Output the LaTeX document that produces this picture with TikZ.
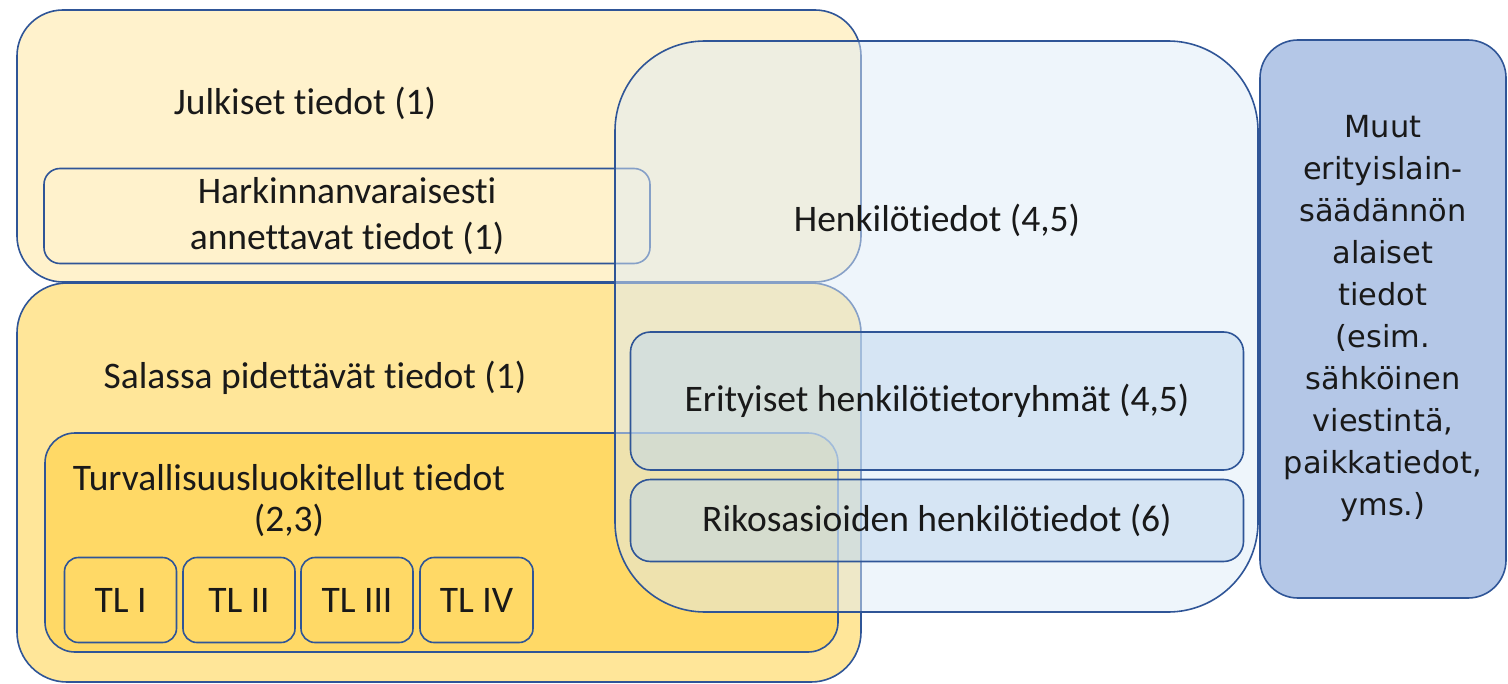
\documentclass[tikz,border=0pt]{standalone}
\usepackage{fontspec}
\setmainfont{Carlito}[Ligatures=NoCommon]
\newfontfamily\muutfont{DejaVu Sans}
\usetikzlibrary{positioning}
\definecolor{edgeblue}{HTML}{2F5597}
\definecolor{publicyellow}{HTML}{FFF2CC}
\definecolor{secretyellow}{HTML}{FFE699}
\definecolor{classyellow}{HTML}{FFD966}
\definecolor{personblue}{HTML}{DEEBF7}
\definecolor{groupblue}{HTML}{BDD7EE}
\definecolor{otherblue}{HTML}{B4C7E7}
\tikzset{
    % Thin dark blue outline used by every box
    box line/.style={draw=edgeblue, line width=0.8pt},
%
    % Text of the diagram
    label text/.style={text=black!90, inner sep=0, align=center,
        font=\fontsize{18.75}{23}\selectfont},
%
    % Small rounded box holding its own text
    inner box/.style={box line, label text, rectangle, outer sep=0},
%
    % The see-through fills over the yellow side
    person fill/.style={fill=personblue, fill opacity=0.5, text opacity=1},
    group fill/.style={fill=groupblue, fill opacity=0.5, text opacity=1}}

\begin{document}
\begin{tikzpicture}[x=0.5pt, y=-0.5pt]

\useasboundingbox (0,0) rectangle (1508,684);

% Public and secret information

\path [box line, fill=publicyellow, rounded corners=23pt]
    (17,10) rectangle (861,282);
\path [box line, fill=secretyellow, rounded corners=25pt]
    (17,283) rectangle (861,682);

\node [label text] (julkiset) at (305,103) {Julkiset tiedot (1)};

\node [inner box, rounded corners=8pt, minimum width=303pt, minimum height=47.5pt]
    (harkinta) at (347,216)
    {Harkinnanvaraisesti\\annettavat tiedot (1)};

\node [label text] (salassa) at (315,378) {Salassa pidettävät tiedot (1)};

\path [box line, fill=classyellow, rounded corners=15pt]
    (45,433) rectangle (838,652);
\node [label text, font=\fontsize{18.75}{20.5}\selectfont]
    (turva) at (289,501) {Turvallisuusluokitellut tiedot\\(2,3)};

\node [inner box, fill=classyellow, rounded corners=7pt,
    minimum width=56pt, minimum height=42.5pt] (tl1) at (120.5,600) {TL I};
\node [inner box, fill=classyellow, rounded corners=7pt,
    minimum width=56pt, minimum height=42.5pt] (tl2) at (239,600) {TL II};
\node [inner box, fill=classyellow, rounded corners=7pt,
    minimum width=56pt, minimum height=42.5pt] (tl3) at (357,600) {TL III};
\node [inner box, fill=classyellow, rounded corners=7pt,
    minimum width=56.5pt, minimum height=42.5pt] (tl4) at (476.5,600)
    {\raisebox{-1.5pt}{TL IV}};

% Personal data, laid over the yellow side

\path [box line, person fill, rounded corners=45pt]
    (615,41) rectangle (1258,612);
\node [label text] (henkilo) at (937,220) {Henkilötiedot (4,5)};

\node [inner box, group fill, rounded corners=10pt,
    minimum width=306.5pt, minimum height=69pt]
    (erityiset) at (937,401) {Erityiset henkilötietoryhmät (4,5)};
\node [inner box, group fill, rounded corners=10pt,
    minimum width=306.5pt, minimum height=41pt]
    (rikos) at (937,520.5) {Rikosasioiden henkilötiedot (6)};

% Other special legislation

\node [inner box, fill=otherblue, rounded corners=19pt,
    minimum width=123pt, minimum height=279pt,
    font=\muutfont\fontsize{15.2}{21}\selectfont]
    (muut) at (1383,319)
    {Muut\\erityislain-\\säädännön\\alaiset\\tiedot\\(esim.\\sähköinen\\viestintä,\\paikkatiedot,\\yms.)};

\end{tikzpicture}
\end{document}
